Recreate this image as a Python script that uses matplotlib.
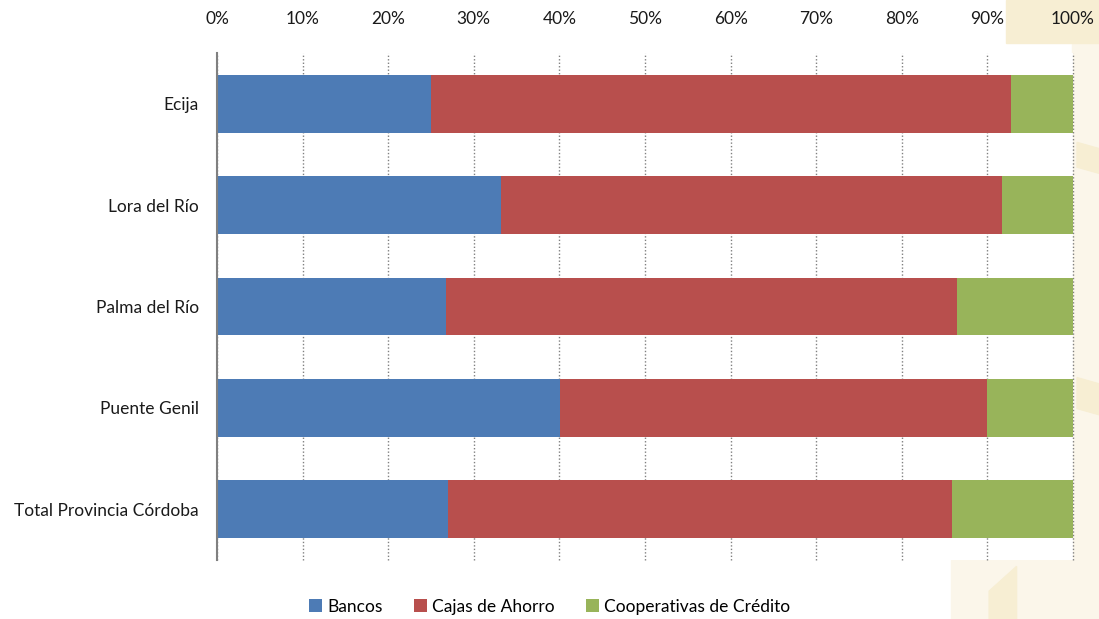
import matplotlib.pyplot as plt
from matplotlib.patches import Polygon
from matplotlib.ticker import PercentFormatter

# data (shares in %)
categories = ['Ecija', 'Lora del Río', 'Palma del Río', 'Puente Genil', 'Total Provincia Córdoba']
bancos = [25.0, 33.2, 26.7, 40.1, 27.0]
cajas = [67.7, 58.5, 59.8, 49.9, 58.9]
cooperativas = [7.3, 8.3, 13.5, 10.0, 14.1]
series_names = ['Bancos', 'Cajas de Ahorro', 'Cooperativas de Crédito']
colors = ['#4d7bb5', '#b84f4d', '#98b45a']

plt.rcParams['font.family'] = ['Lato', 'DejaVu Sans']

fig = plt.figure(figsize=(10.99, 6.19), dpi=100)

# faint beige watermark on the right side (kept behind the axes)
light = '#fbf6ea'
wm = '#f7eed3'
for pts, col in [
    ([(0.975, 0.0), (1.0, 0.0), (1.0, 1.0), (0.975, 1.0)], light),
    ([(0.915, 1.0), (1.0, 1.0), (1.0, 0.93), (0.915, 0.93)], wm),
    ([(0.865, 0.0), (1.0, 0.0), (1.0, 0.095), (0.865, 0.095)], light),
    ([(0.90, 0.0), (0.925, 0.0), (0.925, 0.085), (0.90, 0.045)], wm),
    ([(0.98, 0.77), (1.0, 0.76), (1.0, 0.72), (0.98, 0.73)], wm),
    ([(0.98, 0.39), (1.0, 0.38), (1.0, 0.33), (0.98, 0.34)], wm),
]:
    p = Polygon(pts, closed=True, transform=fig.transFigure, color=col, zorder=-1)
    fig.add_artist(p)

ax = fig.add_axes([217 / 1099, 1 - 560 / 619, (1073 - 217) / 1099, (560 - 53) / 619])
ax.set_facecolor('white')

y = list(range(len(categories)))
left = [0] * len(categories)
for vals, name, col in zip([bancos, cajas, cooperativas], series_names, colors):
    ax.barh(y, vals, left=left, height=0.57, color=col, label=name, zorder=2)
    left = [l + v for l, v in zip(left, vals)]

ax.set_xlim(0, 100)
ax.set_ylim(len(categories) - 0.5, -0.5)
ax.set_yticks(y)
ax.set_yticklabels(categories)
ax.set_xticks(range(0, 101, 10))
ax.xaxis.set_major_formatter(PercentFormatter(decimals=0))
ax.xaxis.tick_top()
ax.tick_params(axis='both', length=0, labelsize=12.5, colors='#1a1a1a')
ax.tick_params(axis='x', pad=19)
ax.tick_params(axis='y', pad=13)

ax.grid(axis='x', linestyle=(0, (1, 1.5)), color='#808080', linewidth=1, zorder=1)
for gl in ax.get_xgridlines():
    gl.set_clip_on(False)
for s in ['top', 'right', 'bottom']:
    ax.spines[s].set_visible(False)
ax.spines['left'].set_color('#808080')
ax.spines['left'].set_linewidth(1.5)
ax.spines['left'].set_zorder(3)

fig.legend(loc='lower center', bbox_to_anchor=(0.5, -0.018), ncol=3, frameon=False,
           fontsize=12.5, handlelength=0.75, handleheight=0.75, handletextpad=0.3,
           columnspacing=1.8)

fig.savefig('out.png', dpi=100, facecolor='white')
